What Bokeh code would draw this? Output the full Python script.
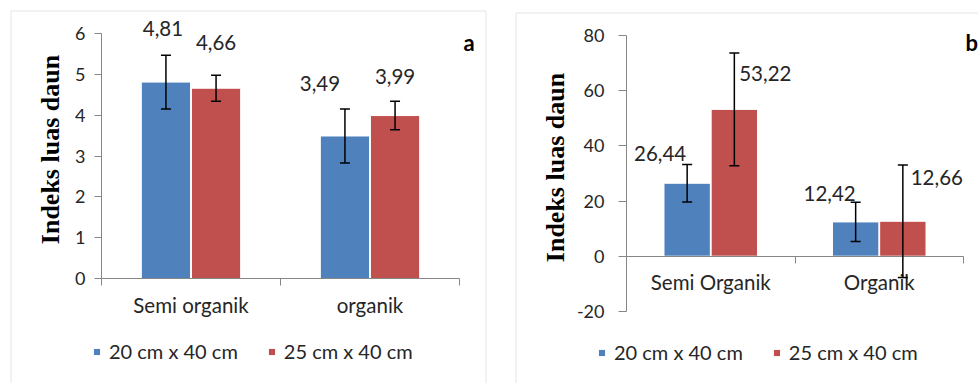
import numpy as np
from bokeh.plotting import figure
from bokeh.models import (ColumnDataSource, Range1d, FixedTicker, Whisker, TeeHead,
                          LabelSet, Label, Legend, LegendItem, BoxAnnotation)
from bokeh.layouts import row
from bokeh.core.properties import value
from bokeh.embed import file_html
from bokeh.resources import INLINE

# ---------------- data ----------------
series_names = ["20 cm x 40 cm", "25 cm x 40 cm"]
y_title = "Indeks luas daun"

a_categories = ["Semi organik", "organik"]
a_20 = [4.81, 3.49]
a_25 = [4.66, 3.99]
a_20_err = [0.66, 0.66]
a_25_err = [0.32, 0.35]
a_yticks = [0, 1, 2, 3, 4, 5, 6]
a_ytick_labels = ["0", "1", "2", "3", "4", "5", "6"]

b_categories = ["Semi Organik", "Organik"]
b_20 = [26.44, 12.42]
b_25 = [53.22, 12.66]
b_20_err = [6.8, 7.1]
b_25_err = [20.4, 20.4]
b_yticks = [-20, 0, 20, 40, 60, 80]
b_ytick_labels = ["-20", "0", "20", "40", "60", "80"]

# ---------------- styles ----------------
BLUE = "#4F81BD"
RED = "#C0504D"
AXIS = "#868686"
TXT = "#262626"
FONT = "Lato"
BORDER_COLOR = "#a6a6a6"

# label offsets in pixels (relative to bar centre / error-bar top)
a_dx = {0: [-3, -25], 1: [0, 0]}
a_dy = {0: [27, 26], 1: [33, 25]}
b_dx = {0: [-27, -26], 1: [31, 34]}
b_dy = {0: [11, 9], 1: [-20, -13]}


def fmt(v):
    return f"{v:.2f}".replace(".", ",")


def lin(p0, p1, v0, v1):
    k = (v1 - v0) / (p1 - p0)
    return lambda px: v0 + (px - p0) * k


def make_panel(cats, s20, s25, e20, e25, dx, dy, yticks, ytick_labels,
               canvas, xpx, ypx, border, letter_px, title_px, legend_loc,
               tick_out, tick_standoff):
    cx, cy, cw, ch = canvas
    n = len(cats)
    fx = lin(xpx[0], xpx[1], 0, n)
    fy = lin(ypx[0], ypx[1], 0, yticks[-1])
    p = figure(width=cw, height=ch,
               x_range=Range1d(fx(cx), fx(cx + cw)),
               y_range=Range1d(fy(cy + ch), fy(cy)),
               output_backend="svg", toolbar_location=None,
               min_border_left=0, min_border_right=0,
               min_border_top=0, min_border_bottom=0)
    p.grid.visible = False
    p.outline_line_color = None
    p.background_fill_color = "white"
    p.border_fill_color = "white"

    # chart-area border
    bl, bt, br = border
    p.add_layout(BoxAnnotation(left=fx(bl), top=fy(bt),
                               right=(fx(br) if br is not None else None),
                               fill_color=None, fill_alpha=0,
                               line_color=BORDER_COLOR, line_width=1))

    xs = np.arange(n) + 0.5
    offsets = [-0.14, 0.14]
    colors = [BLUE, RED]
    items = []
    for k, (vals, errs) in enumerate([(s20, e20), (s25, e25)]):
        vals = np.array(vals, dtype=float)
        errs = np.array(errs, dtype=float)
        src = ColumnDataSource(dict(
            x=xs + offsets[k], top=vals, upper=vals + errs, lower=vals - errs,
            lbl=[fmt(v) for v in vals], dx=dx[k], dy=dy[k]))
        r = p.vbar(x="x", top="top", bottom=0, width=0.275, source=src,
                   fill_color=colors[k], line_color="white", line_width=1)
        w = Whisker(source=src, base="x", upper="upper", lower="lower",
                    line_color="black", line_width=1.5, level="overlay",
                    upper_head=TeeHead(size=10, line_color="black", line_width=1.5),
                    lower_head=TeeHead(size=10, line_color="black", line_width=1.5))
        p.add_layout(w)
        ls = LabelSet(x="x", y="upper", text="lbl", x_offset="dx", y_offset="dy",
                      source=src, text_align="center", text_baseline="middle",
                      text_font=value(FONT), text_font_size="20.5px", text_color=TXT)
        p.add_layout(ls)
        items.append(LegendItem(label=series_names[k], renderers=[r]))

    # y axis (fixed at x = 0)
    ya = p.yaxis[0]
    ya.fixed_location = 0
    ya.bounds = (yticks[0], yticks[-1])
    ya.ticker = FixedTicker(ticks=yticks)
    ya.major_label_overrides = {t: l for t, l in zip(yticks, ytick_labels)}
    ya.axis_line_color = AXIS
    ya.major_tick_line_color = AXIS
    ya.major_tick_out = tick_out
    ya.major_tick_in = 0
    ya.minor_tick_line_color = None
    ya.major_label_text_font = FONT
    ya.major_label_text_font_size = "18px"
    ya.major_label_text_color = TXT
    ya.major_label_standoff = tick_standoff

    # y-axis title as a rotated label
    tx, ty = title_px
    p.add_layout(Label(x=fx(tx), y=fy(ty), text=y_title, angle=np.pi / 2,
                       text_font="Liberation Serif", text_font_style="bold",
                       text_font_size="26px", text_color="black",
                       text_align="center", text_baseline="middle"))

    # x axis (fixed at y = 0): labels at category centres, ticks at boundaries
    xa = p.xaxis[0]
    xa.fixed_location = 0
    xa.bounds = (0, n)
    xa.ticker = FixedTicker(ticks=[float(x) for x in xs],
                            minor_ticks=[float(i) for i in range(n + 1)])
    xa.major_label_overrides = {float(x): c for x, c in zip(xs, cats)}
    xa.axis_line_color = AXIS
    xa.major_tick_line_color = None
    xa.major_tick_out = 0
    xa.major_tick_in = 0
    xa.minor_tick_line_color = AXIS
    xa.minor_tick_out = 7
    xa.minor_tick_in = 0
    xa.major_label_text_font = FONT
    xa.major_label_text_font_size = "20.5px"
    xa.major_label_text_color = TXT
    xa.major_label_standoff = 7

    legend = Legend(items=items, location=legend_loc, orientation="horizontal",
                    border_line_color=None, background_fill_alpha=0,
                    padding=0, margin=0, spacing=29, label_standoff=8,
                    glyph_width=9, glyph_height=9, label_height=20,
                    label_text_font=FONT, label_text_font_size="20px",
                    label_text_color=TXT)
    p.add_layout(legend)

    letter, lx, ly = letter_px
    p.add_layout(Label(x=fx(lx), y=fy(ly), text=letter, text_font=FONT,
                       text_font_style="bold", text_font_size="22px",
                       text_color="black", text_align="left",
                       text_baseline="middle"))
    return p


# page-pixel geometry of each chart (canvas, axis positions, border)
p1 = make_panel(a_categories, a_20, a_25, a_20_err, a_25_err, a_dx, a_dy,
                a_yticks, a_ytick_labels,
                canvas=(0, 0, 500, 383), xpx=(101, 459), ypx=(278, 33),
                border=(10.5, 10.5, 485.5), letter_px=("a", 463, 42),
                title_px=(50, 149), legend_loc=(92, 20),
                tick_out=7, tick_standoff=9)

p2 = make_panel(b_categories, b_20, b_25, b_20_err, b_25_err, b_dx, b_dy,
                b_yticks, b_ytick_labels,
                canvas=(500, 0, 478, 383), xpx=(626, 963), ypx=(255.7, 35),
                border=(515.5, 12.5, None), letter_px=("b", 965, 42),
                title_px=(555, 167), legend_loc=(97, 19),
                tick_out=8, tick_standoff=14)

layout = row(p1, p2)
open("out.html", "w").write(file_html(layout, INLINE))
